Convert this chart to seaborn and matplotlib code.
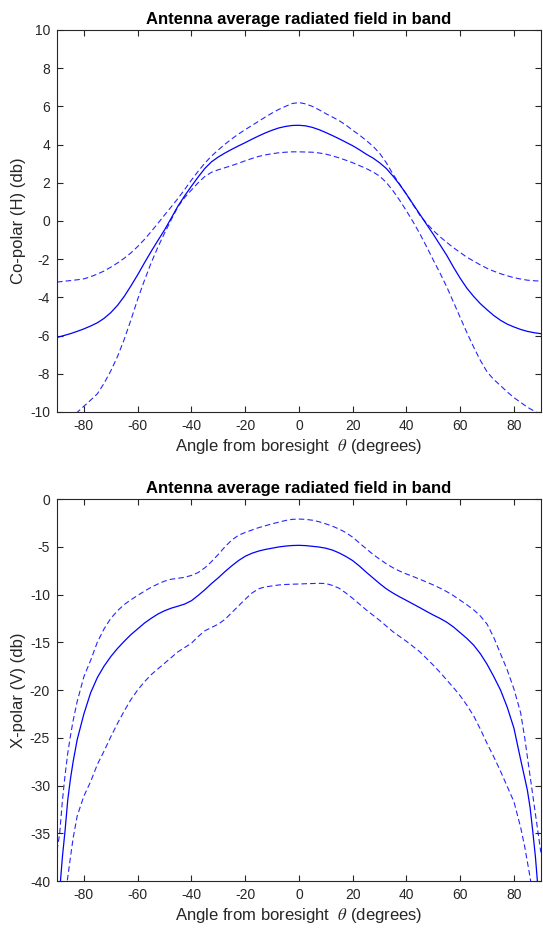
import numpy as np
import pandas as pd
import matplotlib
matplotlib.use("Agg")
import matplotlib.pyplot as plt
import seaborn as sns

# ---- data ----
# Co-polar panel: angles every 2.5 degrees from -90 to 90
angle_co = [-90, -87.5, -85, -82.5, -80, -77.5, -75, -72.5, -70, -67.5, -65, -62.5, -60, -57.5, -55, -52.5,
            -50, -47.5, -45, -42.5, -40, -37.5, -35, -32.5, -30, -27.5, -25, -22.5, -20, -17.5, -15, -12.5,
            -10, -7.5, -5, -2.5, 0, 2.5, 5, 7.5, 10, 12.5, 15, 17.5, 20, 22.5, 25, 27.5, 30, 32.5, 35, 37.5,
            40, 42.5, 45, 47.5, 50, 52.5, 55, 57.5, 60, 62.5, 65, 67.5, 70, 72.5, 75, 77.5, 80, 82.5, 85, 87.5, 90]
co_mean = [-6.1, -6.0, -5.9, -5.78, -5.65, -5.5, -5.33, -5.1, -4.8, -4.42, -3.95, -3.4, -2.82, -2.2, -1.6, -1.03,
           -0.47, 0.15, 0.78, 1.32, 1.82, 2.3, 2.75, 3.1, 3.35, 3.56, 3.75, 3.93, 4.1, 4.28, 4.45, 4.61,
           4.75, 4.87, 4.95, 5.0, 5.01, 4.98, 4.9, 4.78, 4.63, 4.47, 4.3, 4.12, 3.94, 3.73, 3.5, 3.3, 3.05, 2.75, 2.35, 1.9,
           1.4, 0.87, 0.35, -0.18, -0.7, -1.25, -1.8, -2.42, -3.0, -3.52, -3.95, -4.33, -4.65, -4.95, -5.2, -5.4, -5.55, -5.68, -5.78, -5.85, -5.9]
co_hi = [-3.2, -3.16, -3.12, -3.08, -3.03, -2.92, -2.78, -2.62, -2.42, -2.2, -1.95, -1.67, -1.34, -0.97, -0.56, -0.13,
         0.31, 0.74, 1.18, 1.65, 2.14, 2.6, 3.03, 3.4, 3.72, 4.02, 4.3, 4.55, 4.78, 5.0, 5.22, 5.44,
         5.65, 5.84, 6.0, 6.15, 6.2, 6.13, 6.0, 5.82, 5.62, 5.44, 5.25, 5.02, 4.75, 4.5, 4.22, 3.92, 3.55, 3.05, 2.45, 1.92,
         1.4, 0.85, 0.3, -0.12, -0.5, -0.83, -1.12, -1.4, -1.65, -1.9, -2.1, -2.3, -2.48, -2.63, -2.76, -2.87, -2.97, -3.04, -3.1, -3.13, -3.15]
co_lo = [-11.0, -10.7, -10.35, -10.02, -9.7, -9.38, -9.05, -8.5, -7.85, -7.1, -6.2, -5.18, -4.1, -3.12, -2.2, -1.38,
         -0.64, 0.07, 0.75, 1.23, 1.62, 2.0, 2.33, 2.55, 2.68, 2.79, 2.9, 3.02, 3.15, 3.27, 3.38, 3.46,
         3.52, 3.57, 3.6, 3.62, 3.62, 3.61, 3.6, 3.56, 3.5, 3.41, 3.3, 3.18, 3.05, 2.9, 2.75, 2.57, 2.35, 2.02, 1.58, 1.08,
         0.53, -0.05, -0.67, -1.35, -2.05, -2.73, -3.45, -4.25, -5.05, -5.85, -6.6, -7.3, -7.9, -8.3, -8.62, -8.95, -9.25, -9.5, -9.75, -9.95, -10.15]

# Cross-polar panel: denser near the steep edges
angle_x = [-90, -89, -88, -87, -86, -85, -84, -82.5, -80, -77.5, -75, -72.5, -70, -67.5, -65, -62.5, -60, -57.5,
           -55, -52.5, -50, -47.5, -45, -42.5, -40, -37.5, -35, -32.5, -30, -27.5, -25, -22.5, -20, -17.5, -15, -12.5,
           -10, -7.5, -5, -2.5, 0, 2.5, 5, 7.5, 10, 12.5, 15, 17.5, 20, 22.5, 25, 27.5, 30, 32.5, 35, 37.5,
           40, 42.5, 45, 47.5, 50, 52.5, 55, 57.5, 60, 62.5, 65, 67.5, 70, 72.5, 75, 77.5, 80, 82.5, 84, 85, 86, 87, 88, 89, 90]
x_mean = [-47, -41.0, -37.5, -34.7, -31.5, -29.3, -27.5, -25.2, -22.5, -20.3, -18.7, -17.5, -16.5, -15.65, -14.9, -14.2, -13.6, -13.0,
          -12.5, -12.05, -11.7, -11.43, -11.22, -11.0, -10.65, -10.1, -9.5, -8.85, -8.25, -7.6, -7.0, -6.45, -6.0, -5.68, -5.45, -5.28,
          -5.15, -5.02, -4.93, -4.87, -4.85, -4.88, -4.95, -5.03, -5.15, -5.35, -5.65, -6.02, -6.45, -7.02, -7.65, -8.25, -8.85, -9.4, -9.85, -10.25,
          -10.62, -11.0, -11.38, -11.77, -12.15, -12.5, -12.9, -13.4, -14.0, -14.6, -15.3, -16.2, -17.3, -18.6, -20.0, -21.8, -24.0, -27.3, -29.2, -30.5, -32.3, -34.8, -37.5, -41.0, -47]
x_hi = [-36.8, -35.0, -31.6, -28.9, -26.6, -24.8, -23.2, -21.2, -18.6, -16.9, -15.0, -13.6, -12.5, -11.7, -11.05, -10.55, -10.1, -9.65,
        -9.25, -8.9, -8.6, -8.4, -8.3, -8.2, -8.0, -7.7, -7.2, -6.55, -5.8, -5.0, -4.3, -3.8, -3.5, -3.25, -3.0, -2.8,
        -2.6, -2.42, -2.25, -2.13, -2.1, -2.13, -2.22, -2.38, -2.6, -2.85, -3.15, -3.52, -4.0, -4.6, -5.2, -5.78, -6.3, -6.78, -7.2, -7.55,
        -7.85, -8.12, -8.4, -8.7, -9.0, -9.33, -9.7, -10.12, -10.6, -11.08, -11.6, -12.25, -13.1, -14.5, -16.2, -17.9, -19.9, -22.4, -25.0, -27.0, -29.0, -31.0, -33.0, -35.0, -37.0]
x_lo = [-52, -47.5, -44.0, -41.5, -39.6, -37.5, -35.5, -33.2, -31.1, -29.6, -27.8, -26.4, -24.9, -23.5, -22.2, -21.0, -20.0, -19.15,
        -18.4, -17.8, -17.2, -16.6, -16.0, -15.55, -15.1, -14.4, -13.8, -13.45, -13.1, -12.6, -11.9, -11.2, -10.5, -9.85, -9.4, -9.2,
        -9.1, -9.0, -8.95, -8.92, -8.9, -8.87, -8.85, -8.83, -8.85, -9.05, -9.35, -9.85, -10.4, -11.0, -11.6, -12.15, -12.7, -13.3, -13.9, -14.4,
        -14.9, -15.45, -16.0, -16.7, -17.4, -18.15, -18.95, -19.75, -20.6, -21.6, -22.7, -24.1, -25.6, -27.0, -28.5, -30.1, -31.7, -34.4, -36.4, -38.0, -39.6, -41.5, -44.0, -47.0, -51.0]

title = "Antenna average radiated field in band"
xlabel = r"Angle from boresight  $\theta$ (degrees)"
ylabel_top = "Co-polar (H) (db)"
ylabel_bot = "X-polar (V) (db)"
xticks = [-80, -60, -40, -20, 0, 20, 40, 60, 80]
yticks_top = [-10, -8, -6, -4, -2, 0, 2, 4, 6, 8, 10]
yticks_bot = [-40, -35, -30, -25, -20, -15, -10, -5, 0]

# ---- style ----
sns.set_theme(style="white")
plt.rcParams["font.family"] = ["Liberation Sans", "DejaVu Sans"]
plt.rcParams["mathtext.fontset"] = "stix"
txt = "#262626"

fig = plt.figure(figsize=(5.43, 9.31), dpi=100)
ax1 = fig.add_axes([0.105, 0.5575, 0.891, 0.4103])
ax2 = fig.add_axes([0.105, 0.0537, 0.891, 0.4103])

top = pd.DataFrame({"angle": angle_co, "mean": co_mean, "hi": co_hi, "lo": co_lo})
bot = pd.DataFrame({"angle": angle_x, "mean": x_mean, "hi": x_hi, "lo": x_lo})

blue = (0, 0, 1)
for ax, df, ylim, yt, yl in [(ax1, top, (-10, 10), yticks_top, ylabel_top),
                             (ax2, bot, (-40, 0), yticks_bot, ylabel_bot)]:
    sns.lineplot(data=df, x="angle", y="mean", ax=ax, color=blue, lw=0.9, sort=False)
    for col in ["hi", "lo"]:
        l = sns.lineplot(data=df, x="angle", y=col, ax=ax, color=blue, lw=0.8, sort=False)
        l.lines[-1].set_dashes((5, 2.8))
        l.lines[-1].set_alpha(0.85)
    ax.set_xlim(-90, 90)
    ax.set_ylim(*ylim)
    ax.set_xticks(xticks)
    ax.set_xticklabels([str(v) for v in xticks])
    ax.set_yticks(yt)
    ax.set_yticklabels([str(v) for v in yt])
    ax.tick_params(direction="in", length=4, width=0.8, top=True, right=True,
                   bottom=True, left=True, labelsize=10, colors=txt, pad=5)
    for s in ax.spines.values():
        s.set_visible(True)
        s.set_color(txt)
        s.set_linewidth(0.8)
    ax.set_title(title, fontsize=12, fontweight="bold", color="black", pad=4)
    ax.set_xlabel(xlabel, fontsize=12, color=txt, labelpad=3)
    ax.set_ylabel(yl, fontsize=12, color=txt, labelpad=3)
    ax.grid(False)

fig.savefig("out.png", dpi=100, facecolor="white")
